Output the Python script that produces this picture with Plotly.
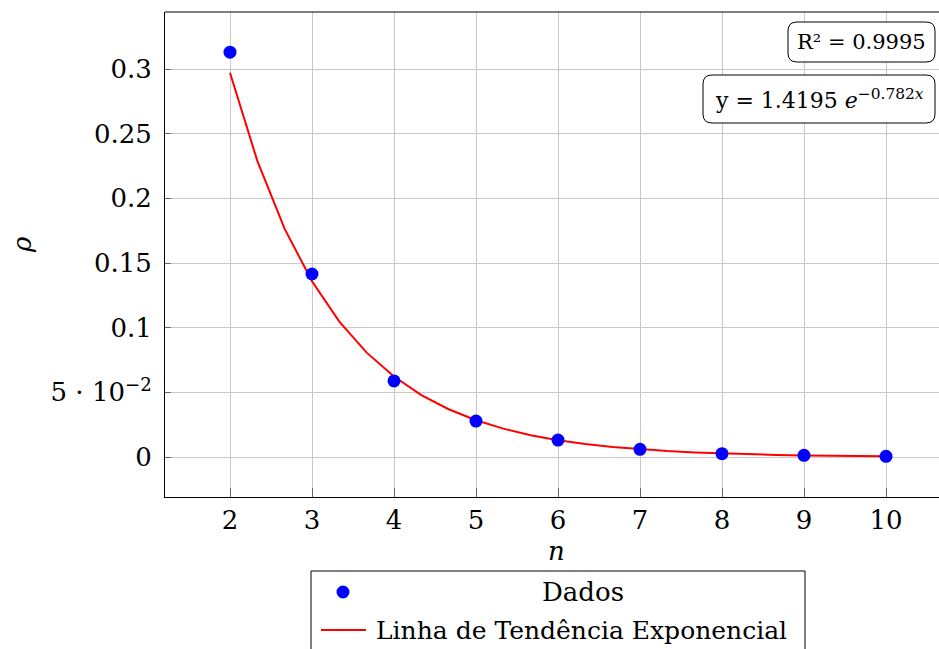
import numpy as np
import plotly.graph_objects as go

# Measured data
n_vals = [2, 3, 4, 5, 6, 7, 8, 9, 10]
rho_vals = [0.313, 0.1415, 0.0588, 0.0278, 0.0131, 0.0059, 0.0026, 0.0013, 0.0005]

# Exponential fit coefficients (y = a * e^(b x))
fit_a = 1.4195
fit_b = -0.782
fit_r2 = 0.9995

x_ticks = [2, 3, 4, 5, 6, 7, 8, 9, 10]
y_ticks = [0, 0.05, 0.1, 0.15, 0.2, 0.25, 0.3]
y_tick_text = ["0", "5 · 10<sup>−2</sup>", "0.1", "0.15", "0.2", "0.25", "0.3"]

FONT = "DejaVu Serif"
W, H = 939, 649
L, R, T, B = 165, 0, 12, 152
PW, PH = W - L - R, H - T - B


def px_x(p):
    return (p - L) / PW


def px_y(p):
    return (H - B - p) / PH


fit_x = np.linspace(min(n_vals), max(n_vals), 25)
fit_y = fit_a * np.exp(fit_b * fit_x)

fig = go.Figure()
fig.add_trace(go.Scatter(
    x=fit_x, y=fit_y, mode="lines",
    line=dict(color="#ff0000", width=2), name="Linha de Tendência Exponencial",
    showlegend=False,
))
fig.add_trace(go.Scatter(
    x=n_vals, y=rho_vals, mode="markers",
    marker=dict(color="#0000ff", size=13), name="Dados",
    showlegend=False,
))


def rounded_rect(x0, y0, x1, y1, r=9):
    rx, ry = r / PW, r / PH
    return (f"M {x0+rx},{y0} L {x1-rx},{y0} Q {x1},{y0} {x1},{y0+ry} "
            f"L {x1},{y1-ry} Q {x1},{y1} {x1-rx},{y1} L {x0+rx},{y1} "
            f"Q {x0},{y1} {x0},{y1-ry} L {x0},{y0+ry} Q {x0},{y0} {x0+rx},{y0} Z")


shapes = []
annotations = []

# Fit information boxes
boxes = [
    ((788, 62, 935, 22), f"R² = {fit_r2}", 21),
    ((703, 123, 935, 75),
     f"y = {fit_a} <i>e</i><sup>−{abs(fit_b)}<i>x</i></sup>", 22),
]
for (bx0, by0, bx1, by1), txt, fs in boxes:
    x0, y0, x1, y1 = px_x(bx0), px_y(by0), px_x(bx1), px_y(by1)
    shapes.append(dict(type="path", xref="paper", yref="paper",
                       path=rounded_rect(x0, y0, x1, y1),
                       line=dict(color="black", width=1), fillcolor="white", layer="above"))
    annotations.append(dict(xref="paper", yref="paper", x=(x0 + x1) / 2, y=(y0 + y1) / 2,
                            text=txt, showarrow=False, xanchor="center", yanchor="middle",
                            font=dict(family=FONT, size=fs, color="black")))

# Top frame line
shapes.append(dict(type="line", xref="paper", yref="paper", x0=0, x1=1, y0=1, y1=1,
                   line=dict(color="black", width=1)))

# Legend box
shapes.append(dict(type="rect", xref="paper", yref="paper",
                   x0=px_x(311), x1=px_x(805), y0=px_y(571), y1=px_y(668),
                   line=dict(color="black", width=1), fillcolor="white"))
mr = 6.5
shapes.append(dict(type="circle", xref="paper", yref="paper",
                   x0=px_x(343 - mr), x1=px_x(343 + mr), y0=px_y(592 + mr), y1=px_y(592 - mr),
                   line=dict(color="#0000ff", width=0), fillcolor="#0000ff"))
shapes.append(dict(type="line", xref="paper", yref="paper",
                   x0=px_x(321), x1=px_x(366), y0=px_y(630), y1=px_y(630),
                   line=dict(color="#ff0000", width=2)))
annotations.append(dict(xref="paper", yref="paper", x=px_x(583), y=px_y(592),
                        text="Dados", showarrow=False, xanchor="center", yanchor="middle",
                        font=dict(family=FONT, size=26, color="black")))
annotations.append(dict(xref="paper", yref="paper", x=px_x(581), y=px_y(630),
                        text="Linha de Tendência Exponencial", showarrow=False,
                        xanchor="center", yanchor="middle",
                        font=dict(family=FONT, size=25, color="black")))

# Axis titles
annotations.append(dict(xref="paper", yref="paper", x=px_x(556), y=px_y(551),
                        text="<i>n</i>", showarrow=False, xanchor="center", yanchor="middle",
                        font=dict(family=FONT, size=26, color="black")))
annotations.append(dict(xref="paper", yref="paper", x=px_x(22), y=px_y(245),
                        text="<i>ρ</i>", showarrow=False, xanchor="center", yanchor="middle",
                        textangle=-90, font=dict(family=FONT, size=26, color="black")))

x_lo = 2 - (230 - L) / 82
x_hi = 2 + (W - 230) / 82
ypp = 0.3 / (457 - 69)
y_lo = -(H - B - 457) * ypp
y_hi = (457 - T) * ypp

fig.update_layout(
    width=W, height=H,
    margin=dict(l=L, r=R, t=T, b=B),
    paper_bgcolor="white", plot_bgcolor="white",
    font=dict(family=FONT, size=26, color="black"),
    shapes=shapes, annotations=annotations,
    xaxis=dict(range=[x_lo, x_hi], tickvals=x_ticks, ticks="inside", ticklen=9,
               tickcolor="#666666", showgrid=True, gridcolor="#c8c8c8", gridwidth=1,
               showline=True, linecolor="black", linewidth=1, zeroline=False,
               tickfont=dict(family=FONT, size=26)),
    yaxis=dict(range=[y_lo, y_hi], tickvals=y_ticks, ticktext=y_tick_text,
               ticks="inside", ticklen=6, tickcolor="#666666", ticklabelstandoff=7,
               showgrid=True, gridcolor="#c8c8c8", gridwidth=1,
               showline=True, linecolor="black", linewidth=1, zeroline=False,
               tickfont=dict(family=FONT, size=26)),
)

fig.write_html("out.html")
